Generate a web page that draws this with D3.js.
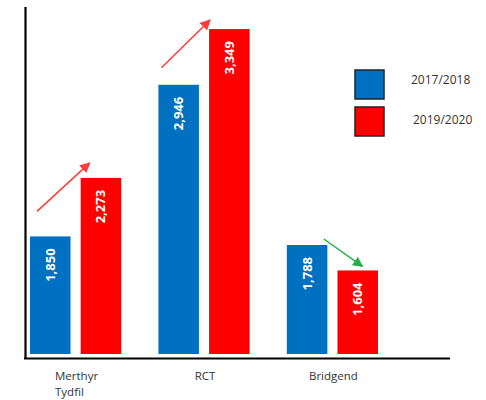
<!DOCTYPE html>
<html>
<head>
<meta charset="utf-8">
<script src="https://cdn.jsdelivr.net/npm/d3@7"></script>
<style>
  body { margin: 0; background: #fff; }
  text { font-family: "Open Sans", "Liberation Sans", sans-serif; }
</style>
</head>
<body>
<div id="chart"></div>
<script>
'use strict';

var categories = ["Merthyr Tydfil", "RCT", "Bridgend"];
var seriesNames = ["2017/2018", "2019/2020"];
var values2017 = [1850, 2946, 1788];
var values2019 = [2273, 3349, 1604];
var seriesColors = ["#0070c0", "#ff0000"];

// arrows drawn between the two bars of each group (offsets in px from bar tops)
var arrows = [
  {cat: "Merthyr Tydfil", color: "#ff3b3b", from: [7, -25], to: [9, -15]},
  {cat: "RCT", color: "#ff3b3b", from: [3, -17], to: [1, -9]},
  {cat: "Bridgend", color: "#22b04b", from: [37, -6], to: [25, -4]}
];

var width = 486, height = 400;
var baseline = 354;

var svg = d3.select("#chart").append("svg")
    .attr("width", width)
    .attr("height", height);

var defs = svg.append("defs");
arrows.forEach(function(a, i) {
  defs.append("marker")
      .attr("id", "head" + i)
      .attr("viewBox", "0 0 10 10")
      .attr("refX", 9).attr("refY", 5)
      .attr("markerWidth", 7).attr("markerHeight", 7)
      .attr("markerUnits", "strokeWidth")
      .attr("orient", "auto")
    .append("path")
      .attr("d", "M0,0 L10,5 L0,10 z")
      .attr("fill", a.color);
});

var data = categories.map(function(c, i) {
  return {cat: c, values: [values2017[i], values2019[i]]};
});

var x = d3.scaleBand()
    .domain(categories)
    .range([30, 378])
    .paddingInner(0.29)
    .paddingOuter(0);

var xInner = d3.scaleBand()
    .domain(seriesNames)
    .range([0, x.bandwidth()])
    .paddingInner(0.2);

var y = d3.scaleLinear()
    .domain([1000, 3400])
    .range([baseline, 22]);

var fmt = d3.format(",");

var group = svg.selectAll("g.group")
    .data(data)
    .enter().append("g")
    .attr("class", "group")
    .attr("transform", function(d) { return "translate(" + x(d.cat) + ",0)"; });

var bar = group.selectAll("g.bar")
    .data(function(d) {
      return d.values.map(function(v, j) { return {series: seriesNames[j], value: v, j: j}; });
    })
    .enter().append("g")
    .attr("class", "bar");

bar.append("rect")
    .attr("x", function(d) { return xInner(d.series); })
    .attr("y", function(d) { return y(d.value); })
    .attr("width", xInner.bandwidth())
    .attr("height", function(d) { return baseline - y(d.value); })
    .attr("fill", function(d) { return seriesColors[d.j]; });

bar.append("text")
    .attr("transform", function(d) {
      return "translate(" + (xInner(d.series) + xInner.bandwidth() / 2) + "," + (y(d.value) + 12) + ") rotate(-90)";
    })
    .attr("dy", "0.35em")
    .attr("text-anchor", "end")
    .attr("fill", "#fff")
    .style("font-size", "13px")
    .style("font-weight", "bold")
    .text(function(d) { return fmt(d.value); });

// arrows
arrows.forEach(function(a, i) {
  var d = data[categories.indexOf(a.cat)];
  var x0 = x(a.cat) + xInner(seriesNames[0]) + a.from[0];
  var y0 = y(d.values[0]) + a.from[1];
  var x1 = x(a.cat) + xInner(seriesNames[1]) + a.to[0];
  var y1 = y(d.values[1]) + a.to[1];
  svg.append("line")
      .attr("x1", x0).attr("y1", y0)
      .attr("x2", x1).attr("y2", y1)
      .attr("stroke", a.color)
      .attr("stroke-width", 1.5)
      .attr("marker-end", "url(#head" + i + ")");
});

// axes lines
svg.append("line")
    .attr("x1", 25.5).attr("x2", 25.5)
    .attr("y1", 7).attr("y2", 359)
    .attr("stroke", "#000").attr("stroke-width", 2.2);
svg.append("line")
    .attr("x1", 24).attr("x2", 450)
    .attr("y1", 358.5).attr("y2", 358.5)
    .attr("stroke", "#000").attr("stroke-width", 2.2);

// category labels
var catLabel = svg.selectAll("text.cat")
    .data(categories)
    .enter().append("text")
    .attr("class", "cat")
    .attr("fill", "#333")
    .style("font-size", "11.5px");

catLabel.each(function(c) {
  var t = d3.select(this);
  var lines = c.split(" ");
  var cx = x(c) + x.bandwidth() / 2 + 1;
  lines.forEach(function(l, k) {
    t.append("tspan").attr("y", 380 + k * 16).text(l);
  });
  var w = t.select("tspan").node().getComputedTextLength();
  t.selectAll("tspan").attr("x", cx - w / 2);
});

// legend
var legend = svg.selectAll("g.legend")
    .data(seriesNames)
    .enter().append("g")
    .attr("class", "legend")
    .attr("transform", function(d, i) { return "translate(355," + (70 + i * 37) + ")"; });

legend.append("rect")
    .attr("width", 29).attr("height", 29)
    .attr("fill", function(d, i) { return seriesColors[i]; })
    .attr("stroke", "#222")
    .attr("stroke-width", 1.5);

legend.append("text")
    .attr("x", function(d, i) { return 56 + i * 2; })
    .attr("y", function(d, i) { return 10 + i * 3; })
    .attr("dy", "0.35em")
    .attr("fill", "#333")
    .style("font-size", "12px")
    .text(function(d) { return d; });
</script>
</body>
</html>
